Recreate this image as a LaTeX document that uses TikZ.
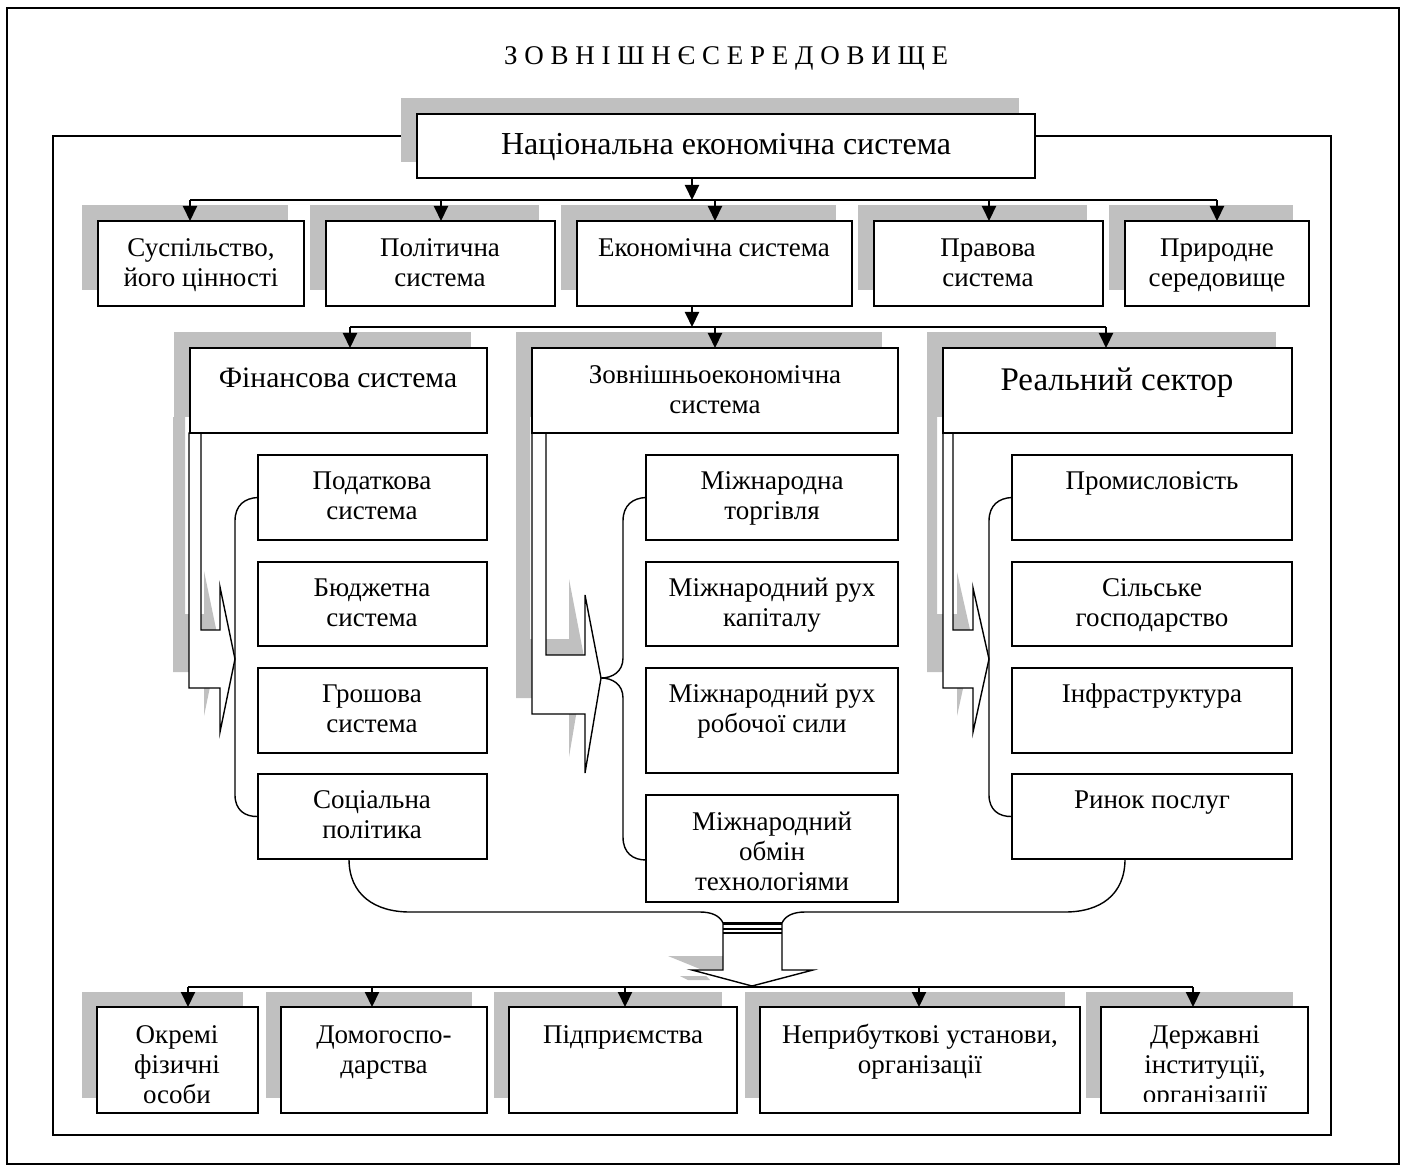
\documentclass[tikz,border=0pt]{standalone}
\usepackage{fontspec}
\setmainfont{Liberation Serif}
\usetikzlibrary{arrows.meta}
\definecolor{shd}{HTML}{C0C0C0}
\newcommand\mlines[1]{\begin{tabular}[t]{@{}c@{}}#1\end{tabular}}
% name x1 y1 x2 y2 shadow-offset
\newcommand\shbox[6]{%
  \fill[shd] (#2-#6,#3-#6) rectangle (#4-#6,#5-#6);
  \node[box, anchor=north west, minimum width={(#4-#2)*0.5pt}, minimum height={(#5-#3)*0.5pt}] (#1) at (#2,#3) {};}
\newcommand\plbox[5]{%
  \node[box, anchor=north west, minimum width={(#4-#2)*0.5pt}, minimum height={(#5-#3)*0.5pt}] (#1) at (#2,#3) {};}
\begin{document}
\begin{tikzpicture}[x=0.5pt,y=-0.5pt,
  box/.style={draw, fill=white, line width=1pt, inner sep=0pt, outer sep=0pt},
  conn/.style={line width=1pt, -{Triangle[length=7.5pt,width=7pt]}},
  bus/.style={line width=1pt},
  thinln/.style={line width=0.7pt},
  txt/.style={anchor=base, inner sep=0pt, outer sep=0pt},
  fmain/.style={font=\fontsize{13.5}{15}\selectfont},
  fbig/.style={font=\fontsize{14.8}{18}\selectfont}]
\useasboundingbox (0,0) rectangle (1406,1171);
\fill[white] (0,0) rectangle (1406,1171);
\draw[line width=1pt] (7,8) rectangle (1399,1164);
\draw[line width=1pt] (53,136) rectangle (1331,1135);
\node[txt, font=\fontsize{13.5}{16}\selectfont] (title) at (726,65) {З О В Н І Ш Н Є С Е Р Е Д О В И Щ Е};

% top box
\shbox{nes}{417}{114}{1035}{178}{16}
\node[txt, font=\fontsize{16}{18}\selectfont] (nest) at (726,155) {Національна економічна система};

% row 2
\shbox{s1}{98}{221}{304}{306}{16}
\shbox{s2}{326}{221}{555}{306}{16}
\shbox{s3}{577}{221}{852}{306}{16}
\shbox{s4}{874}{221}{1103}{306}{16}
\shbox{s5}{1125}{221}{1309}{306}{16}
\node[txt, fmain] (s1t) at (201,257) {\mlines{Суспільство,\\його цінності}};
\node[txt, fmain] (s2t) at (440,257) {\mlines{Політична\\система}};
\node[txt, fmain] (s3t) at (714,257) {Економічна система};
\node[txt, fmain] (s4t) at (988,257) {\mlines{Правова\\система}};
\node[txt, fmain] (s5t) at (1217,257) {\mlines{Природне\\середовище}};

\coordinate (busA) at (692,200);
\draw[conn] (nes.south -| busA) -- (busA);
\draw[bus] (190,200) -- (1217,200);
\foreach \n/\x in {s1/190,s2/441,s3/715,s4/989,s5/1217}
  \draw[conn] (\x,200) -- (\n.north -| \x,0);

% row 3 headers, with L-arrows
% finance
\fill[shd] (174,332) rectangle (471,417);
\fill[shd, shift={(-16,-16)}] (189,433) -- (189,688) -- (220,688) -- (220,732) -- (235,659) -- (220,587) -- (220,630) -- (201,630) -- (201,433) -- cycle;
\draw[thinln, fill=white] (189,433) -- (189,688) -- (220,688) -- (220,732) -- (235,659) -- (220,587) -- (220,630) -- (201,630) -- (201,433) -- cycle;
\plbox{fin}{190}{348}{487}{433}
% foreign
\fill[shd] (516,332) rectangle (882,417);
\fill[shd, shift={(-16,-16)}] (532,433) -- (532,714) -- (585,714) -- (585,773) -- (601,678) -- (585,595) -- (585,655) -- (546,655) -- (546,433) -- cycle;
\draw[thinln, fill=white] (532,433) -- (532,714) -- (585,714) -- (585,773) -- (601,678) -- (585,595) -- (585,655) -- (546,655) -- (546,433) -- cycle;
\plbox{zov}{532}{348}{898}{433}
% real
\fill[shd] (927,332) rectangle (1276,417);
\fill[shd, shift={(-16,-16)}] (943,433) -- (943,688) -- (973,688) -- (973,732) -- (989,659) -- (973,588) -- (973,630) -- (953,630) -- (953,433) -- cycle;
\draw[thinln, fill=white] (943,433) -- (943,688) -- (973,688) -- (973,732) -- (989,659) -- (973,588) -- (973,630) -- (953,630) -- (953,433) -- cycle;
\plbox{rea}{943}{348}{1292}{433}

\node[txt, fbig] (fint) at (338,387) {Фінансова система};
\node[txt, font=\fontsize{13.5}{15}\selectfont] (zovt) at (715,383) {\mlines{Зовнішньоекономічна\\система}};
\node[txt, font=\fontsize{16.5}{18}\selectfont] (reat) at (1117,390) {Реальний сектор};

\coordinate (busB) at (692,327);
\draw[conn] (s3.south -| busB) -- (busB);
\draw[bus] (350,327) -- (1106,327);
\foreach \n/\x in {fin/350,zov/715,rea/1106}
  \draw[conn] (\x,327) -- (\n.north -| \x,0);

% finance subsystems
\plbox{f1}{258}{455}{487}{540}
\plbox{f2}{258}{562}{487}{646}
\plbox{f3}{258}{668}{487}{753}
\plbox{f4}{258}{774}{487}{859}
\node[txt, fmain] (f1t) at (372,489) {\mlines{Податкова\\система}};
\node[txt, fmain] (f2t) at (372,596) {\mlines{Бюджетна\\система}};
\node[txt, fmain] (f3t) at (372,702) {\mlines{Грошова\\система}};
\node[txt, fmain] (f4t) at (372,808) {\mlines{Соціальна\\політика}};
% foreign subsystems
\plbox{z1}{646}{455}{898}{540}
\plbox{z2}{646}{562}{898}{646}
\plbox{z3}{646}{668}{898}{773}
\plbox{z4}{646}{795}{898}{902}
\node[txt, fmain] (z1t) at (772,489) {\mlines{Міжнародна\\торгівля}};
\node[txt, fmain] (z2t) at (772,596) {\mlines{Міжнародний рух\\капіталу}};
\node[txt, fmain] (z3t) at (772,702) {\mlines{Міжнародний рух\\робочої сили}};
\node[txt, fmain] (z4t) at (772,830) {\mlines{Міжнародний\\обмін\\технологіями}};
% real subsystems
\plbox{r1}{1012}{455}{1292}{540}
\plbox{r2}{1012}{562}{1292}{646}
\plbox{r3}{1012}{668}{1292}{753}
\plbox{r4}{1012}{774}{1292}{859}
\node[txt, fmain] (r1t) at (1152,489) {Промисловість};
\node[txt, fmain] (r2t) at (1152,596) {\mlines{Сільське\\господарство}};
\node[txt, fmain] (r3t) at (1152,702) {Інфраструктура};
\node[txt, fmain] (r4t) at (1152,808) {Ринок послуг};

% braces
\draw[thinln] (f1.west) .. controls (245,498) and (235,505) .. (235,521) -- (235,795) .. controls (235,810) and (245,817) .. (f4.west);
\draw[thinln] (z1.west) .. controls (633,498) and (623,505) .. (623,521) -- (623,658) .. controls (623,672) and (612,678) .. (601,678) .. controls (612,678) and (623,684) .. (623,698) -- (623,837) .. controls (623,853) and (633,860) .. (646,860);
\draw[thinln] (r1.west) .. controls (999,498) and (989,505) .. (989,521) -- (989,795) .. controls (989,810) and (999,817) .. (r4.west);

% merge curves and block arrow
\draw[thinln] (f4.south -| 349,0) .. controls (349,895) and (375,912) .. (410,912) -- (700,912) .. controls (712,912) and (720,916) .. (723,923);
\draw[thinln] (r4.south -| 1125,0) .. controls (1125,895) and (1100,912) .. (1065,912) -- (805,912) .. controls (793,912) and (785,916) .. (782,923);
\fill[shd] (668,956) -- (723,956) -- (723,969) -- (700,969) -- cycle;
\fill[shd] (680,976) -- (706,976) -- (710,980) -- (688,980) -- cycle;
\draw[thinln, fill=white] (723,923) -- (723,970) -- (692,970) -- (752,986) -- (813,970) -- (782,970) -- (782,923);
\draw[line width=1.5pt] (723,923.5) -- (782,923.5);
\draw[thinln] (723,929) -- (782,929);
\draw[thinln] (723,933) -- (782,933);

% bottom row
\shbox{o1}{97}{1007}{258}{1113}{15}
\shbox{o2}{281}{1007}{487}{1113}{15}
\shbox{o3}{509}{1007}{737}{1113}{15}
\shbox{o4}{760}{1007}{1080}{1113}{15}
\shbox{o5}{1101}{1007}{1308}{1113}{15}
\draw[bus] (188,987) -- (1193,987);
\foreach \n/\x in {o1/188,o2/372,o3/625,o4/919,o5/1193}
  \draw[conn] (\x,987) -- (\n.north -| \x,0);
\node[txt, fmain] (o1t) at (177,1043) {\mlines{Окремі\\фізичні\\особи}};
\node[txt, fmain] (o2t) at (384,1043) {\mlines{Домогоспо-\\дарства}};
\node[txt, fmain] (o3t) at (623,1043) {Підприємства};
\node[txt, fmain] (o4t) at (920,1043) {\mlines{Неприбуткові установи,\\організації}};
\begin{scope}
\clip (1102,1008) rectangle (1307,1101);
\node[txt, fmain] (o5t) at (1205,1043) {\mlines{Державні\\інституції,\\організації}};
\end{scope}
\end{tikzpicture}
\end{document}
